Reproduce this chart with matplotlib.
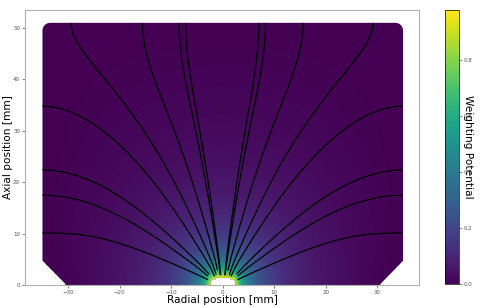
import numpy as np
import matplotlib
matplotlib.use('Agg')
import matplotlib.pyplot as plt
from matplotlib.patches import Polygon

# detector outline [mm]
radius = 35.0
height = 51.0
taper_r = 30.5      # taper meets the bottom face here
taper_z = 4.7       # taper meets the side wall here
contact_r = 2.4     # point contact (white hole at the origin)
contact_z = 1.3
corner = 1.5        # rounding of the top corners
vmax = 0.976        # top of the colour bar

# where the drawn field lines leave the outer surface [mm]
side_z = [10.1, 17.5, 22.4, 34.8]
top_r = [-29.5, -15.6, -8.5, -7.2, 7.0, 8.3, 15.6, 29.2]

# ---- weighting potential: Laplace in (r, z), contact = 1, outer faces = 0,
# passivated bottom face (dV/dz = 0)
h = 0.25
r = np.arange(0, radius + h / 2, h)
z = np.arange(0, height + h / 2, h)
R, Z = np.meshgrid(r, z)

outside = (R > taper_r) & (Z < taper_z * (R - taper_r) / (radius - taper_r))
contact = (R / contact_r) ** 4 + (Z / contact_z) ** 4 <= 1
fixed = outside | contact
fixed[:, -1] = True
fixed[-1, :] = True

V = np.where(contact, 1.0, 0.0)

rr = np.where(R > 0, R, 1.0)
ae = np.where(R > 0, 1 + h / (2 * rr), 4.0)
aw = np.where(R > 0, 1 - h / (2 * rr), 0.0)
den = np.where(R > 0, 4.0, 6.0)

ii, jj = np.meshgrid(np.arange(len(r)), np.arange(len(z)))
red = ((ii + jj) % 2 == 0) & ~fixed
black = ((ii + jj) % 2 == 1) & ~fixed


def relax(V):
    E = np.roll(V, -1, axis=1)
    W = np.roll(V, 1, axis=1)
    N = np.roll(V, -1, axis=0)
    S = np.roll(V, 1, axis=0)
    S[0] = V[1]
    return (ae * E + aw * W + N + S) / den


w = 1.96
for it in range(1500):
    for m in (red, black):
        V[m] += w * (relax(V)[m] - V[m])

# mirror to negative radius
x = np.concatenate([-r[:0:-1], r])
Vf = np.concatenate([V[:, :0:-1], V], axis=1)
mask = np.concatenate([(outside | contact)[:, :0:-1], outside | contact], axis=1)

gy, gx = np.gradient(Vf, h, h)
u = np.ma.array(gx, mask=mask)
v = np.ma.array(gy, mask=mask)
pot = np.ma.array(Vf, mask=mask)

starts = [(-34.9, s) for s in side_z] + [(34.9, s) for s in side_z] + [(t, 50.9) for t in top_r]

# outline of the crystal, used to clip the image
a = np.linspace(0, np.pi / 2, 12)
right_arc = np.column_stack([radius - corner + corner * np.cos(a), height - corner + corner * np.sin(a)])
left_arc = np.column_stack([-(radius - corner) - corner * np.cos(a[::-1]), height - corner + corner * np.sin(a[::-1])])
outline = np.vstack([[[-taper_r, 0], [taper_r, 0], [radius, taper_z]], right_arc,
                     left_arc, [[-radius, taper_z]]])

fig = plt.figure(figsize=(4.8, 3.07), dpi=100)
ax = fig.add_axes([0.052, 0.0717, 0.821, 0.8958])
im = ax.imshow(pot, origin='lower', cmap='viridis', vmin=0, vmax=vmax,
               extent=[x[0] - h / 2, x[-1] + h / 2, z[0] - h / 2, z[-1] + h / 2],
               interpolation='bilinear', aspect='auto')
clip = Polygon(outline, closed=True, transform=ax.transData, facecolor='none', edgecolor='none')
ax.add_patch(clip)
im.set_clip_path(clip)
ax.streamplot(x, z, u, v, start_points=starts, color='black', linewidth=0.9,
              arrowstyle='-', integration_direction='both',
              broken_streamlines=False, maxlength=20)

ax.set_xlim(-38.4, 38.1)
ax.set_ylim(0, 53.5)
ax.set_xticks([-30, -20, -10, 0, 10, 20, 30])
ax.set_yticks([0, 10, 20, 30, 40, 50])
ax.tick_params(labelsize=4, length=2, width=0.5, pad=1.5, colors='#555555')
for s in ax.spines.values():
    s.set_color('#b0b0b0')
    s.set_linewidth(0.8)
ax.set_xlabel('Radial position [mm]', fontsize=7.6, labelpad=0)
ax.set_ylabel('Axial position [mm]', fontsize=7.6, labelpad=0)

cax = fig.add_axes([0.927, 0.075, 0.029, 0.892])
cb = fig.colorbar(im, cax=cax)
cb.ax.tick_params(labelsize=4, length=2, width=0.5, pad=1.5, colors='#555555')
cb.outline.set_linewidth(0.5)
cb.set_label('Weighting Potential', rotation=270, fontsize=7.6)
cb.ax.yaxis.label.set_verticalalignment('center')
cb.ax.yaxis.label.set_horizontalalignment('center')
cb.ax.yaxis.set_label_coords(1.62, 0.5)

fig.savefig('out.png', dpi=100)
